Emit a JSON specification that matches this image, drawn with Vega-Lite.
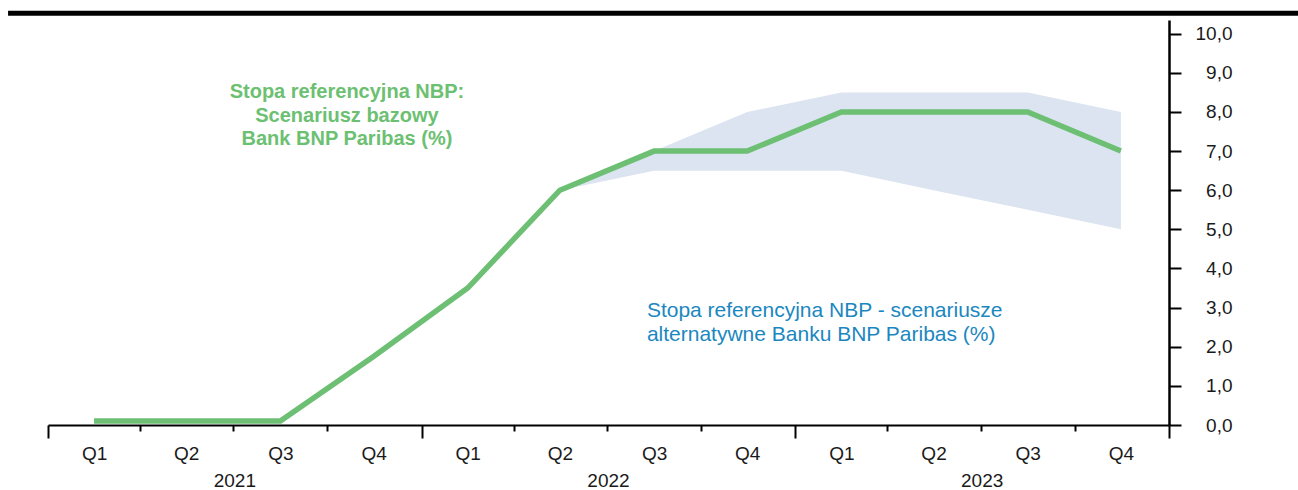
{
  "$schema": "https://vega.github.io/schema/vega-lite/v6.json",
  "width": 1121,
  "height": 405,
  "autosize": "none",
  "padding": {"left": 48, "top": 20, "right": 129, "bottom": 65},
  "background": "white",
  "config": {
    "view": {"stroke": null},
    "font": "Liberation Sans",
    "axis": {"grid": false, "labelFont": "Liberation Sans", "domainColor": "#000000", "tickColor": "#000000", "labelColor": "#1a1a1a", "labelFlush": false, "labelBound": false}
  },
  "datasets": {
    "rates": [
      {"date": "2021-02-15T00:00:00", "rate": 0.1, "low": null, "high": null},
      {"date": "2021-05-16T00:00:00", "rate": 0.1, "low": null, "high": null},
      {"date": "2021-08-16T00:00:00", "rate": 0.1, "low": null, "high": null},
      {"date": "2021-11-15T00:00:00", "rate": 1.75, "low": null, "high": null},
      {"date": "2022-02-15T00:00:00", "rate": 3.5, "low": null, "high": null},
      {"date": "2022-05-16T00:00:00", "rate": 6.0, "low": 6.0, "high": 6.0},
      {"date": "2022-08-16T00:00:00", "rate": 7.0, "low": 6.5, "high": 7.0},
      {"date": "2022-11-15T00:00:00", "rate": 7.0, "low": 6.5, "high": 8.0},
      {"date": "2023-02-15T00:00:00", "rate": 8.0, "low": 6.5, "high": 8.5},
      {"date": "2023-05-16T00:00:00", "rate": 8.0, "low": 6.0, "high": 8.5},
      {"date": "2023-08-16T00:00:00", "rate": 8.0, "low": 5.5, "high": 8.5},
      {"date": "2023-11-15T00:00:00", "rate": 7.0, "low": 5.0, "high": 8.0}
    ]
  },
  "layer": [
    {
      "data": {"name": "rates", "format": {"parse": {"date": "date"}}},
      "transform": [{"filter": "datum.low != null"}],
      "mark": {"type": "area", "color": "#dbe4f0", "opacity": 1},
      "encoding": {
        "x": {
          "field": "date", "type": "temporal",
          "scale": {"domain": [{"year": 2021, "month": 1, "date": 1}, {"year": 2024, "month": 1, "date": 1}]},
          "axis": {
            "orient": "bottom", "title": null, "labels": false, "domain": true, "domainWidth": 2, "ticks": true, "tickWidth": 2,
            "tickSize": {"condition": {"test": "month(datum.value) == 0", "value": 13}, "value": 6},
            "values": [
              {"year": 2021, "month": 1, "date": 1}, {"year": 2021, "month": 4, "date": 1}, {"year": 2021, "month": 7, "date": 1}, {"year": 2021, "month": 10, "date": 1},
              {"year": 2022, "month": 1, "date": 1}, {"year": 2022, "month": 4, "date": 1}, {"year": 2022, "month": 7, "date": 1}, {"year": 2022, "month": 10, "date": 1},
              {"year": 2023, "month": 1, "date": 1}, {"year": 2023, "month": 4, "date": 1}, {"year": 2023, "month": 7, "date": 1}, {"year": 2023, "month": 10, "date": 1},
              {"year": 2024, "month": 1, "date": 1}
            ]
          }
        },
        "y": {
          "field": "low", "type": "quantitative", "scale": {"domain": [0, 10.35]},
          "axis": {
            "orient": "right", "title": null, "values": [0, 1, 2, 3, 4, 5, 6, 7, 8, 9, 10],
            "labelExpr": "replace(format(datum.value, '.1f'), '.', ',')",
            "domain": true, "ticks": true, "labels": true,
            "domainWidth": 2.5, "tickSize": 12, "tickWidth": 2, "labelAlign": "right", "labelPadding": 51,
            "labelFontSize": 19, "labelBaseline": "middle"
          }
        },
        "y2": {"field": "high"}
      }
    },
    {
      "data": {"name": "rates", "format": {"parse": {"date": "date"}}},
      "mark": {"type": "line", "color": "#6cbf73", "strokeWidth": 5.5},
      "encoding": {
        "x": {
          "field": "date", "type": "temporal",
          "scale": {"domain": [{"year": 2021, "month": 1, "date": 1}, {"year": 2024, "month": 1, "date": 1}]},
          "axis": {
            "orient": "bottom", "title": null, "domain": false, "ticks": false, "format": "Q%q", "labelFontSize": 19, "labelPadding": 19, "labelAlign": "center",
            "values": [
              {"year": 2021, "month": 2, "date": 15}, {"year": 2021, "month": 5, "date": 16}, {"year": 2021, "month": 8, "date": 16}, {"year": 2021, "month": 11, "date": 15},
              {"year": 2022, "month": 2, "date": 15}, {"year": 2022, "month": 5, "date": 16}, {"year": 2022, "month": 8, "date": 16}, {"year": 2022, "month": 11, "date": 15},
              {"year": 2023, "month": 2, "date": 15}, {"year": 2023, "month": 5, "date": 16}, {"year": 2023, "month": 8, "date": 16}, {"year": 2023, "month": 11, "date": 15}
            ]
          }
        },
        "y": {"field": "rate", "type": "quantitative", "scale": {"domain": [0, 10.35]}, "axis": null}
      }
    },
    {
      "data": {"values": [{}]},
      "mark": {"type": "rule", "color": "#000000", "strokeWidth": 5},
      "encoding": {
        "x": {
          "datum": {"year": 2020, "month": 11, "date": 23}, "type": "temporal",
          "scale": {"domain": [{"year": 2021, "month": 1, "date": 1}, {"year": 2024, "month": 1, "date": 1}]},
          "axis": {
            "orient": "bottom", "title": null, "domain": false, "ticks": false, "format": "%Y", "labelFontSize": 19, "labelPadding": 46, "labelAlign": "center",
            "values": [{"year": 2021, "month": 7, "date": 2}, {"year": 2022, "month": 7, "date": 2}, {"year": 2023, "month": 7, "date": 2}]
          }
        },
        "x2": {"datum": {"year": 2024, "month": 5, "date": 15}},
        "y": {"datum": 10.52, "type": "quantitative", "scale": {"domain": [0, 10.35]}, "axis": null}
      }
    },
    {
      "data": {"values": [{}]},
      "mark": {"type": "text", "color": "#6cc072", "fontSize": 20, "fontWeight": "bold", "lineHeight": 23.5, "align": "center", "baseline": "middle", "font": "Liberation Sans"},
      "encoding": {
        "x": {"datum": {"year": 2021, "month": 10, "date": 20}, "type": "temporal", "scale": {"domain": [{"year": 2021, "month": 1, "date": 1}, {"year": 2024, "month": 1, "date": 1}]}, "axis": null},
        "y": {"datum": 8.5, "type": "quantitative", "scale": {"domain": [0, 10.35]}, "axis": null},
        "text": {"value": ["Stopa referencyjna NBP:", "Scenariusz bazowy", "Bank BNP Paribas (%)"]}
      }
    },
    {
      "data": {"values": [{}]},
      "mark": {"type": "text", "color": "#1b87c0", "fontSize": 21, "lineHeight": 23.5, "align": "left", "baseline": "middle", "font": "Liberation Sans"},
      "encoding": {
        "x": {"datum": {"year": 2022, "month": 8, "date": 9}, "type": "temporal", "scale": {"domain": [{"year": 2021, "month": 1, "date": 1}, {"year": 2024, "month": 1, "date": 1}]}, "axis": null},
        "y": {"datum": 2.91, "type": "quantitative", "scale": {"domain": [0, 10.35]}, "axis": null},
        "text": {"value": ["Stopa referencyjna NBP - scenariusze", "alternatywne Banku BNP Paribas (%)"]}
      }
    }
  ],
  "resolve": {"axis": {"x": "independent", "y": "independent"}}
}
